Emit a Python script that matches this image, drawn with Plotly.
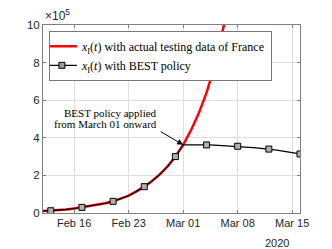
import plotly.graph_objects as go

# values in units of 1e5
dates_red = ["2020-02-12","2020-02-13","2020-02-14","2020-02-15","2020-02-16","2020-02-17",
             "2020-02-18","2020-02-19","2020-02-20","2020-02-21","2020-02-22","2020-02-23",
             "2020-02-24","2020-02-25","2020-02-26","2020-02-27","2020-02-28","2020-02-29",
             "2020-03-01","2020-03-02","2020-03-03","2020-03-04","2020-03-05","2020-03-06",
             "2020-03-07"]
red_vals = [0.10,0.12,0.15,0.19,0.24,0.30,0.36,0.43,0.52,0.62,0.76,0.92,
            1.15,1.40,1.70,2.05,2.48,3.00,3.63,4.40,5.30,6.40,7.75,9.40,11.4]

dates_best = ["2020-02-12","2020-02-13","2020-02-14","2020-02-15","2020-02-16","2020-02-17",
              "2020-02-18","2020-02-19","2020-02-20","2020-02-21","2020-02-22","2020-02-23",
              "2020-02-24","2020-02-25","2020-02-26","2020-02-27","2020-02-28","2020-02-29",
              "2020-03-01","2020-03-02","2020-03-03","2020-03-04","2020-03-05","2020-03-06",
              "2020-03-07","2020-03-08","2020-03-09","2020-03-10","2020-03-11","2020-03-12",
              "2020-03-13","2020-03-14","2020-03-15","2020-03-16"]
best_vals = [0.10,0.12,0.15,0.19,0.24,0.30,0.36,0.43,0.52,0.62,0.76,0.92,
             1.15,1.40,1.70,2.05,2.48,3.00,3.63,3.64,3.63,3.62,3.61,3.59,
             3.57,3.55,3.52,3.48,3.44,3.40,3.34,3.28,3.21,3.14]

marker_dates = ["2020-02-13","2020-02-17","2020-02-21","2020-02-25","2020-02-29",
                "2020-03-04","2020-03-08","2020-03-12","2020-03-16"]
marker_vals = [0.12,0.30,0.62,1.40,3.00,3.62,3.55,3.40,3.14]

tick_dates = ["2020-02-16","2020-02-23","2020-03-01","2020-03-08","2020-03-15"]
tick_text = ["Feb 16","Feb 23","Mar 01","Mar 08","Mar 15"]
y_ticks = [0,2,4,6,8,10]

SERIF = "Liberation Serif"
SANS = "Liberation Sans"
AX = "#262626"

fig = go.Figure()
fig.add_trace(go.Scatter(x=dates_red, y=red_vals, mode="lines",
                         line=dict(color="#ff0000", width=2.5),
                         name="<i>x</i><sub>I</sub>(<i>t</i>) with actual testing data of France"))
fig.add_trace(go.Scatter(x=dates_best, y=best_vals, mode="lines",
                         line=dict(color="black", width=1.2), showlegend=False))
fig.add_trace(go.Scatter(x=marker_dates, y=marker_vals, mode="markers",
                         marker=dict(symbol="square", size=6, color="#b0b0b0",
                                     line=dict(color="black", width=1)),
                         showlegend=False))
fig.add_trace(go.Scatter(x=[None], y=[None], mode="lines+markers",
                         line=dict(color="black", width=1.2),
                         marker=dict(symbol="square", size=6, color="#9a9a9a",
                                     line=dict(color="black", width=1)),
                         name="<i>x</i><sub>I</sub>(<i>t</i>) with BEST policy"))

# page body has an 8px margin: compensate so the plot area lands at x 43..300, y 19..213
fig.update_layout(
    width=324, height=241,
    margin=dict(l=35, r=32, t=11, b=36),
    plot_bgcolor="white", paper_bgcolor="white",
    showlegend=True,
    legend=dict(x=0.023, y=0.969, xanchor="left", yanchor="top",
                bgcolor="white", bordercolor="#777777", borderwidth=1,
                font=dict(family=SERIF, size=12, color="black"),
                tracegroupgap=0, itemwidth=30, indentation=-8),
    xaxis=dict(type="date", range=["2020-02-12", "2020-03-16"],
               tickvals=tick_dates, ticktext=tick_text,
               showgrid=True, gridcolor="#dedede", gridwidth=1,
               showline=True, linecolor="#808080", linewidth=1, mirror="ticks",
               ticks="inside", ticklen=3, tickcolor="#808080",
               tickfont=dict(family=SANS, size=11, color=AX), zeroline=False),
    yaxis=dict(range=[0, 10], tickvals=y_ticks, ticktext=[str(v) for v in y_ticks],
               showgrid=True, gridcolor="#dedede", gridwidth=1,
               showline=True, linecolor="#808080", linewidth=1, mirror="ticks",
               ticks="inside", ticklen=3, tickcolor="#808080",
               tickfont=dict(family=SANS, size=11.5, color=AX), zeroline=False),
)

fig.add_annotation(xref="paper", yref="paper", x=0.0, y=1.0, xanchor="left", yanchor="bottom",
                   yshift=0, text="×10<sup>5</sup>", showarrow=False,
                   font=dict(family=SANS, size=12, color=AX))
fig.add_annotation(xref="paper", yref="paper", x=0.91, y=-0.115, xanchor="center", yanchor="top",
                   text="2020", showarrow=False,
                   font=dict(family=SANS, size=11, color=AX))
fig.add_annotation(xref="paper", yref="paper", x=0.451, y=0.531, xanchor="right", yanchor="middle",
                   text="BEST policy applied", showarrow=False,
                   font=dict(family=SERIF, size=11, color="black"))
fig.add_annotation(xref="paper", yref="paper", x=0.451, y=0.471, xanchor="right", yanchor="middle",
                   text="from March 01 onward", showarrow=False,
                   font=dict(family=SERIF, size=11, color="black"))
fig.add_annotation(x="2020-03-01", y=3.63, ax=-24, ay=-14, text="", showarrow=True,
                   arrowhead=2, arrowsize=1.2, arrowwidth=1, arrowcolor="black", standoff=0)

fig.write_html("out.html")
